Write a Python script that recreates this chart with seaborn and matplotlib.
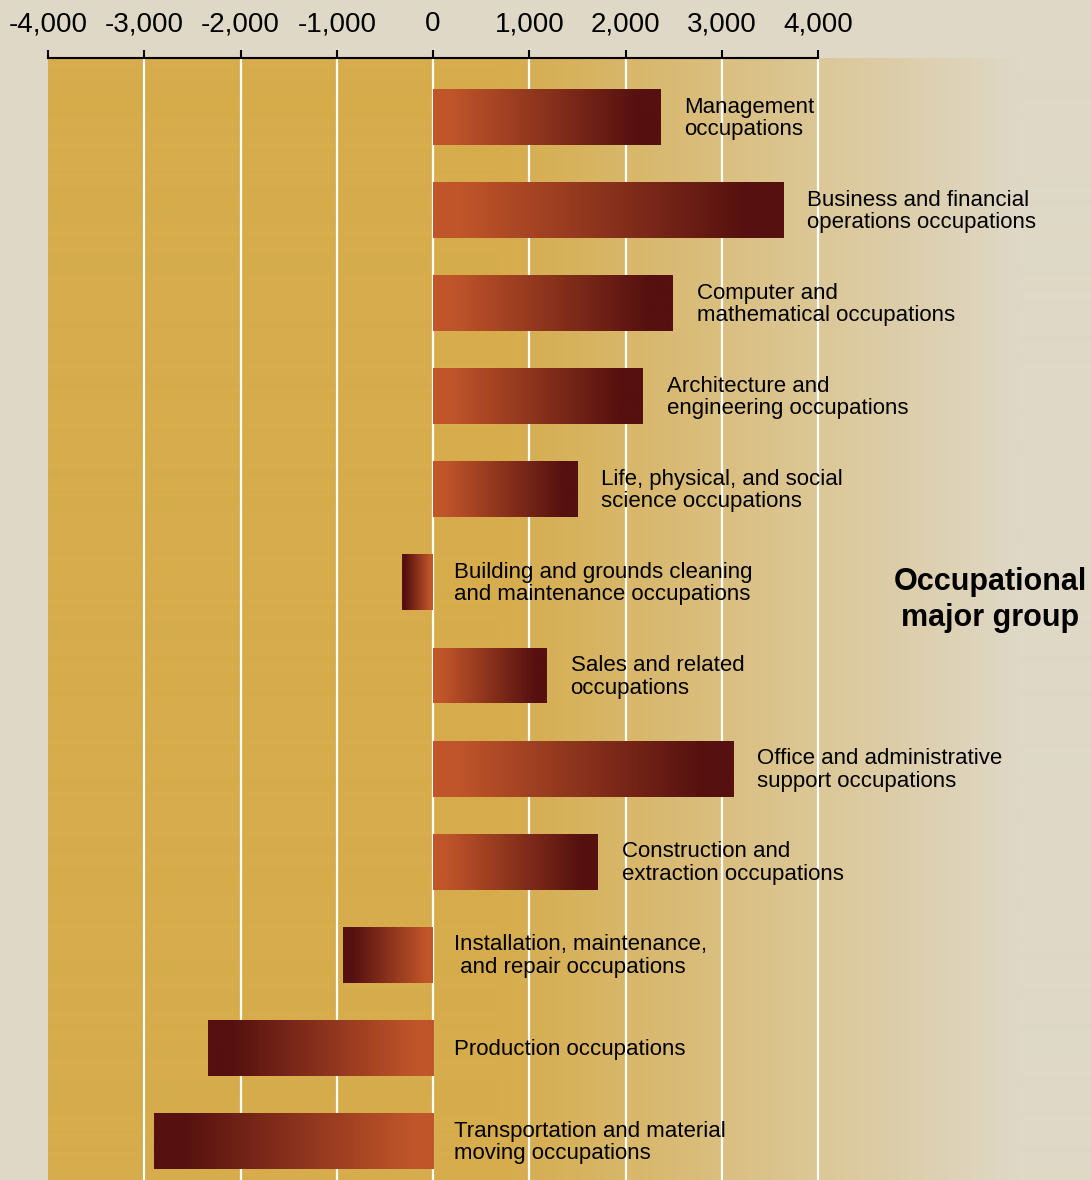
import numpy as np
import pandas as pd
import matplotlib
matplotlib.use('Agg')
import matplotlib.pyplot as plt
import seaborn as sns
from matplotlib.colors import LinearSegmentedColormap, to_rgb

# ---- data ----
categories = [
    "Management\noccupations",
    "Business and financial\noperations occupations",
    "Computer and\nmathematical occupations",
    "Architecture and\nengineering occupations",
    "Life, physical, and social\nscience occupations",
    "Building and grounds cleaning\nand maintenance occupations",
    "Sales and related\noccupations",
    "Office and administrative\nsupport occupations",
    "Construction and\nextraction occupations",
    "Installation, maintenance,\n and repair occupations",
    "Production occupations",
    "Transportation and material\nmoving occupations",
]
values = [2360, 3640, 2490, 2180, 1500, -320, 1180, 3120, 1710, -935, -2340, -2900]
tick_values = [-4000, -3000, -2000, -1000, 0, 1000, 2000, 3000, 4000]
tick_labels = ["-4,000", "-3,000", "-2,000", "-1,000", "0", "1,000", "2,000", "3,000", "4,000"]
axis_title = "Occupational\nmajor group"

# ---- style ----
sns.set_theme(style="white")
plt.rcParams['font.family'] = ['Liberation Sans Narrow', 'Liberation Sans', 'DejaVu Sans']

W, H = 1091, 1180
beige = "#dfd8c6"
gold = "#d6ac4c"
bar_light = "#c0552a"
bar_dark = "#55100f"

fig = plt.figure(figsize=(W / 100, H / 100), dpi=100, facecolor=beige)
rect = [48 / W, 0, 1 - 48 / W, (H - 58) / H]

# background axes with the plot-area gradient
xmin, xmax = -4000, 6836
g_start = (500 - 48) / 1043
g_end = (1020 - 48) / 1043
bg_ax = fig.add_axes(rect, zorder=0)
fr = np.linspace(0, 1, 1043)
g = np.array(to_rgb(gold))
b = np.array(to_rgb(beige))
t = np.clip((fr - g_start) / (g_end - g_start), 0, 1)
bg = (g[None, :] * (1 - t[:, None]) + b[None, :] * t[:, None])[None, :, :]
bg_ax.imshow(bg, extent=[0, 1, 0, 1], aspect="auto", interpolation="bilinear")
bg_ax.set_xlim(0, 1)
bg_ax.set_ylim(0, 1)
bg_ax.axis("off")

ax = fig.add_axes(rect, zorder=1)
ax.patch.set_alpha(0)

df = pd.DataFrame({"group": categories, "change": values})
sns.barplot(data=df, x="change", y="group", orient="h", width=0.6,
            color=bar_light, ax=ax, zorder=2)

# gradient bars
cmap = LinearSegmentedColormap.from_list(
    "barg", [(0, bar_light), (0.08, bar_light), (0.9, bar_dark), (1, bar_dark)])
grad = np.linspace(0, 1, 256)[None, :]
for patch, v in zip(ax.patches, values):
    x0, y0 = patch.get_x(), patch.get_y()
    w, h = patch.get_width(), patch.get_height()
    left, right = min(x0, x0 + w), max(x0, x0 + w)
    img = grad if v >= 0 else grad[:, ::-1]
    im = ax.imshow(img, cmap=cmap, extent=[left, right, y0 + h, y0], aspect="auto",
                   zorder=2.5, vmin=0, vmax=1)
    im.set_clip_path(patch)
    patch.set_facecolor("none")
    patch.set_edgecolor("none")

ax.set_xlim(xmin, xmax)
ax.set_ylim(len(categories) - 1 + 0.42, -0.634)

# gridlines
for xv in tick_values[1:]:
    ax.axvline(xv, color="white", lw=1.6, zorder=1)

# axis
ax.xaxis.tick_top()
ax.set_xticks(tick_values)
ax.set_xticklabels(tick_labels)
ax.tick_params(axis="x", top=True, bottom=False, length=6, width=1.5, color="black",
               pad=9, labelsize=20, labelcolor="black", direction="out")
ax.set_yticks([])
ax.set_xlabel("")
ax.set_ylabel("")
for s in ["left", "right", "bottom"]:
    ax.spines[s].set_visible(False)
ax.spines["top"].set_visible(True)
ax.spines["top"].set_bounds(-4000, 4000)
ax.spines["top"].set_color("black")
ax.spines["top"].set_linewidth(1.5)
ax.spines["top"].set_zorder(5)

# labels
for i, (lab, v) in enumerate(zip(categories, values)):
    off = 24 if v > 0 else 21
    ax.annotate(lab, xy=(max(v, 0), i), xytext=(off * 0.72, -1), textcoords="offset points",
                ha="left", va="center", fontsize=16, color="black", linespacing=1.08, zorder=6)

fig.text(990 / W, 1 - 600 / H, axis_title, ha="center", va="center", fontsize=22,
         fontweight="bold", color="black", linespacing=1.3, zorder=10)

fig.savefig("out.png", dpi=100, facecolor=beige)
